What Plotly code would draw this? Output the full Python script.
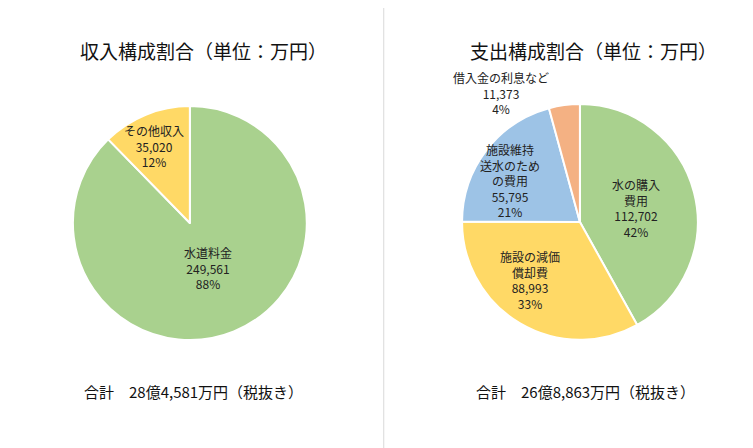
import plotly.graph_objects as go

W, H = 753, 448

# 収入
inc_labels = ['水道料金', 'その他収入']
inc_values = [249561, 35020]
inc_pct = ['88%', '12%']
inc_colors = ['#A9D18E', '#FFD966']

# 支出
exp_labels = ['水の購入<br>費用', '施設の減価<br>償却費', '施設維持<br>送水のため<br>の費用', '借入金の利息など']
exp_values = [112702, 88993, 55795, 11373]
exp_pct = ['42%', '33%', '21%', '4%']
exp_colors = ['#A9D18E', '#FFD966', '#9DC3E6', '#F4B183']

FONT = 'Noto Sans CJK JP'


def px(x, y):
    return x / W, 1 - y / H


fig = go.Figure()
fig.add_trace(go.Pie(values=inc_values, labels=inc_labels, sort=False, direction='clockwise',
                     rotation=0, marker=dict(colors=inc_colors, line=dict(color='white', width=2)),
                     textinfo='none', hoverinfo='label+value', showlegend=False,
                     domain=dict(x=[0.086, 0.397], y=[0.259, 0.781])))
fig.add_trace(go.Pie(values=exp_values, labels=exp_labels, sort=False, direction='clockwise',
                     rotation=0, marker=dict(colors=exp_colors, line=dict(color='white', width=2)),
                     textinfo='none', hoverinfo='label+value', showlegend=False,
                     domain=dict(x=[0.603, 0.916], y=[0.259, 0.786])))

annots = []


def label(x, y, name, val, pct):
    ax, ay = px(x, y)
    annots.append(dict(x=ax, y=ay, xref='paper', yref='paper', showarrow=False,
                       xanchor='center', yanchor='middle',
                       text=f'{name}<br>{val:,}<br>{pct}', font=dict(size=12, family=FONT, color='#222')))


label(200, 260, inc_labels[0], inc_values[0], inc_pct[0])
label(146, 138, inc_labels[1], inc_values[1], inc_pct[1])
label(628, 200, exp_labels[0], exp_values[0], exp_pct[0])
label(522, 272, exp_labels[1], exp_values[1], exp_pct[1])
label(502, 172, exp_labels[2], exp_values[2], exp_pct[2])
label(493, 85, exp_labels[3], exp_values[3], exp_pct[3])

for x, y, t, s in [(195, 42, '収入構成割合（単位：万円）', 19), (585, 42, '支出構成割合（単位：万円）', 19),
                   (185, 383, '合計　28億4,581万円（税抜き）', 15), (577, 383, '合計　26億8,863万円（税抜き）', 15)]:
    ax, ay = px(x, y)
    annots.append(dict(x=ax, y=ay, xref='paper', yref='paper', showarrow=False, text=t,
                       xanchor='center', yanchor='middle',
                       font=dict(size=s, family=FONT, color='#111')))

fig.update_layout(width=W, height=H, margin=dict(l=0, r=0, t=0, b=0),
                  paper_bgcolor='white', plot_bgcolor='white', annotations=annots,
                  shapes=[dict(type='line', xref='paper', yref='paper', x0=0.499, x1=0.499, y0=0, y1=1,
                               line=dict(color='#D9D9D9', width=1))])
fig.write_html('out.html')
